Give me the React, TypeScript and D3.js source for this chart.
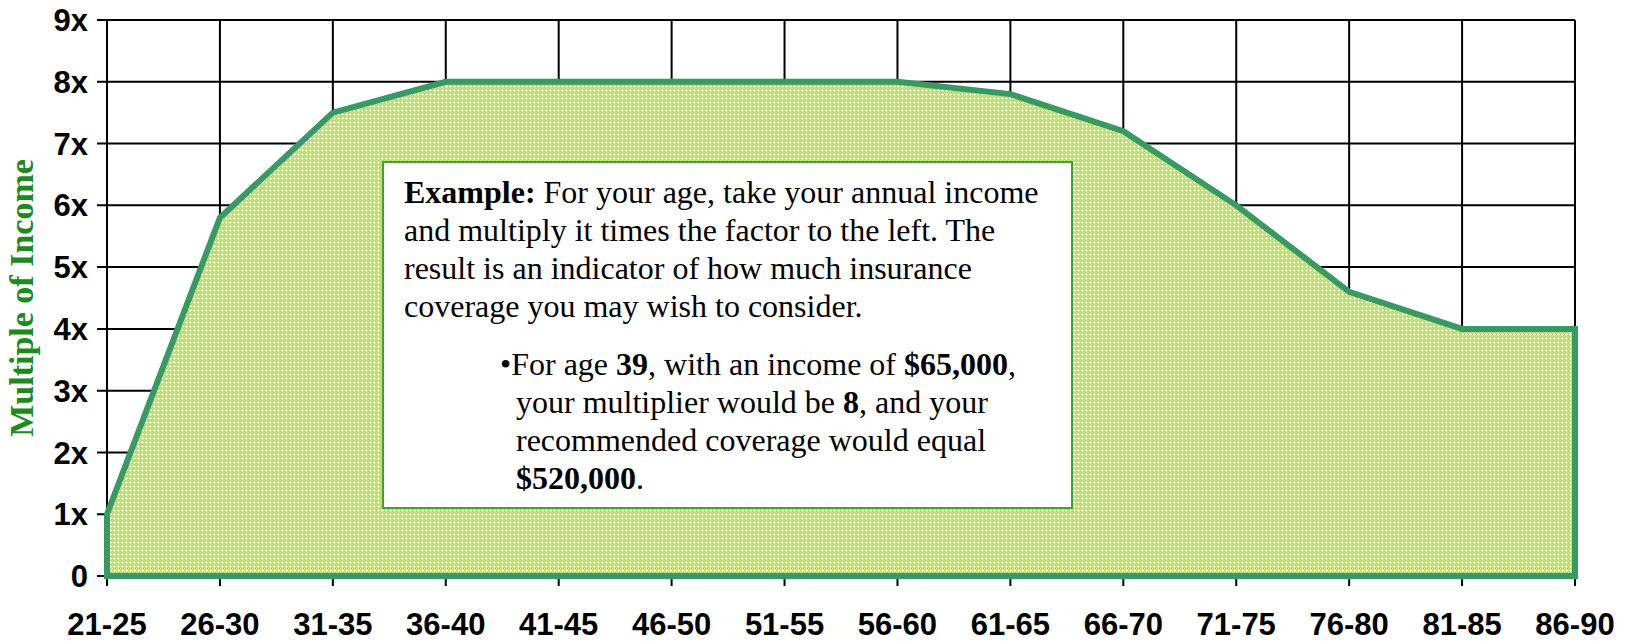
import React from 'react';
import * as d3 from 'd3';

// age bands along the bottom
const ageBands: string[] = [
  '21-25', '26-30', '31-35', '36-40', '41-45', '46-50', '51-55',
  '56-60', '61-65', '66-70', '71-75', '76-80', '81-85', '86-90',
];

// multiple of income for each band
const multiples: number[] = [1, 5.8, 7.5, 8, 8, 8, 8, 8, 7.8, 7.2, 6.0, 4.6, 4, 4];

const yTicks: number[] = [0, 1, 2, 3, 4, 5, 6, 7, 8, 9];
const yTickLabels: string[] = ['0', '1x', '2x', '3x', '4x', '5x', '6x', '7x', '8x', '9x'];

const width = 1637;
const height = 644;
const margin = { left: 107, top: 20, right: 62, bottom: 68 };

const App = () => {
  const x = d3
    .scalePoint<string>()
    .domain(ageBands)
    .range([margin.left, width - margin.right]);
  const y = d3
    .scaleLinear()
    .domain([0, 9])
    .range([height - margin.bottom, margin.top]);

  const pts = ageBands.map((a, i) => ({ a, v: multiples[i] }));
  const area = d3
    .area<{ a: string; v: number }>()
    .x((d) => x(d.a) as number)
    .y0(y(0))
    .y1((d) => y(d.v));

  const serif = '"Liberation Serif", "Times New Roman", serif';
  const sans = '"Liberation Sans", Arial, sans-serif';

  // text box
  const box = { x0: 383, y0: 162, x1: 1072, y1: 508 };
  const tx = 404;
  const lineH = 38;
  const fs = 32;

  return (
    <svg
      width={width}
      height={height}
      style={{ position: 'absolute', left: 0, top: 0, background: '#fff' }}
    >
      <defs>
        <pattern id="hatch" width="4" height="4" patternUnits="userSpaceOnUse">
          <rect width="4" height="4" fill="#b8dd62" />
          <rect x="0" y="0" width="1" height="1" fill="#d4ec9c" />
          <rect x="1" y="2" width="3" height="1" fill="#f4fbe8" />
          <rect x="2" y="1" width="1" height="3" fill="#f4fbe8" />
        </pattern>
      </defs>

      {/* grid */}
      <g stroke="#000" strokeWidth={2}>
        {yTicks.map((t) => (
          <line key={'h' + t} x1={margin.left - 10} x2={width - margin.right} y1={y(t)} y2={y(t)} />
        ))}
        {ageBands.map((a) => (
          <line key={'v' + a} x1={x(a)} x2={x(a)} y1={margin.top} y2={y(0) + 10} />
        ))}
      </g>

      {/* area */}
      <path
        d={area(pts) as string}
        fill="url(#hatch)"
        stroke="#379a62"
        strokeWidth={6}
        strokeLinejoin="miter"
      />

      {/* y labels */}
      <g fontFamily={sans} fontWeight="bold" fontSize={31} textAnchor="end">
        {yTicks.map((t, i) => (
          <text key={t} x={88} y={y(t)} dy="0.36em">
            {yTickLabels[i]}
          </text>
        ))}
      </g>

      {/* x labels */}
      <g fontFamily={sans} fontWeight="bold" fontSize={31} textAnchor="middle">
        {ageBands.map((a) => (
          <text key={a} x={x(a)} y={635}>
            {a}
          </text>
        ))}
      </g>

      {/* axis title */}
      <text
        transform={`translate(33, ${(158 + 438) / 2}) rotate(-90)`}
        textAnchor="middle"
        fontFamily={serif}
        fontWeight="bold"
        fontSize={34}
        fill="#1d8a1d"
      >
        Multiple of Income
      </text>

      {/* example box */}
      <rect
        x={box.x0}
        y={box.y0}
        width={box.x1 - box.x0}
        height={box.y1 - box.y0}
        fill="#fff"
        stroke="#3aa635"
        strokeWidth={2}
      />
      <g fontFamily={serif} fontSize={fs} fill="#000">
        <text x={tx} y={203}>
          <tspan fontWeight="bold">Example:</tspan> For your age, take your annual income
        </text>
        <text x={tx} y={203 + lineH}>and multiply it times the factor to the left. The</text>
        <text x={tx} y={203 + lineH * 2}>result is an indicator of how much insurance</text>
        <text x={tx} y={203 + lineH * 3}>coverage you may wish to consider.</text>

        <text x={500} y={375}>
          •For age <tspan fontWeight="bold">39</tspan>, with an income of{' '}
          <tspan fontWeight="bold">$65,000</tspan>,
        </text>
        <text x={516} y={375 + lineH}>
          your multiplier would be <tspan fontWeight="bold">8</tspan>, and your
        </text>
        <text x={516} y={375 + lineH * 2}>recommended coverage would equal</text>
        <text x={516} y={375 + lineH * 3}>
          <tspan fontWeight="bold">$520,000</tspan>.
        </text>
      </g>
    </svg>
  );
};

export default App;
